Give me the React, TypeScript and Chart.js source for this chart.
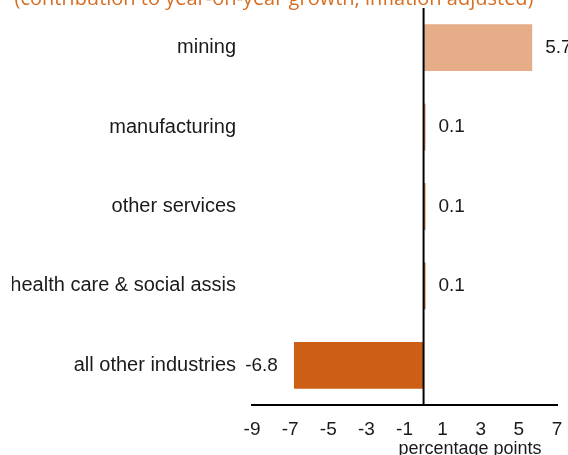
import React, { useEffect, useRef } from 'react';
import { Chart, registerables } from 'chart.js';

Chart.register(...registerables);

const categories = ['mining', 'manufacturing', 'other services', 'health care & social assis', 'all other industries'];
const values = [5.7, 0.1, 0.1, 0.1, -6.8];
const barColors = ['#E5AE88', '#D98A5C', '#CF7640', '#B9652F', '#CC5F15'];
const xTicks = [-9, -7, -5, -3, -1, 1, 3, 5, 7];
const titleText = '(contribution to year-on-year growth, inflation adjusted)';
const axisTitle = 'percentage points';

const FONT = '"Liberation Sans", Arial, sans-serif';
const TEXT = '#1a1a1a';
const TITLE_COLOR = '#D66D22';

const overlay = {
  id: 'overlay',
  afterDatasetsDraw(chart: any) {
    const { ctx, chartArea, scales } = chart;
    const x = scales.x;
    const x0 = x.getPixelForValue(0);
    ctx.save();
    ctx.strokeStyle = '#000';
    ctx.lineWidth = 2;
    ctx.beginPath();
    ctx.moveTo(x0, chartArea.top);
    ctx.lineTo(x0, chartArea.bottom);
    ctx.stroke();

    const meta = chart.getDatasetMeta(0);
    ctx.font = '19px ' + FONT;
    ctx.fillStyle = TEXT;
    ctx.textBaseline = 'middle';
    meta.data.forEach((bar: any, i: number) => {
      const v = values[i];
      const label = v.toFixed(1);
      if (v >= 0) {
        ctx.textAlign = 'left';
        ctx.fillText(label, bar.x + 13, bar.y);
      } else {
        ctx.textAlign = 'right';
        ctx.fillText(label, bar.x - 16, bar.y);
      }
    });

    ctx.font = '20px "Open Sans", sans-serif';
    ctx.fillStyle = TITLE_COLOR;
    ctx.textAlign = 'center';
    ctx.textBaseline = 'alphabetic';
    ctx.fillText(titleText, 274, 5);

    ctx.font = '18px ' + FONT;
    ctx.fillStyle = TEXT;
    ctx.fillText(axisTitle, 470, 454);
    ctx.restore();
  },
};

const zeroPad = (scale: any) => {
  scale.paddingTop = 0;
  scale.paddingBottom = 0;
  scale.paddingLeft = 0;
  scale.paddingRight = 0;
};

export default function App() {
  const ref = useRef<HTMLCanvasElement | null>(null);
  useEffect(() => {
    if (!ref.current) return;
    const chart = new Chart(ref.current, {
      type: 'bar',
      data: {
        labels: categories,
        datasets: [
          {
            data: values,
            backgroundColor: barColors,
            borderWidth: 0,
            categoryPercentage: 1,
            barPercentage: 0.59,
          },
        ],
      },
      options: {
        indexAxis: 'y',
        responsive: false,
        animation: false,
        layout: { padding: { top: 8, right: 11, left: 12, bottom: 0 } },
        plugins: {
          legend: { display: false },
          tooltip: { enabled: false },
          title: { display: false },
        },
        scales: {
          x: {
            min: -9,
            max: 7,
            afterBuildTicks: (scale: any) => {
              scale.ticks = xTicks.map((v) => ({ value: v }));
            },
            afterFit: (scale: any) => {
              scale.height = 50;
              zeroPad(scale);
            },
            grid: { display: false, drawTicks: false },
            border: { display: true, color: '#000', width: 2 },
            ticks: {
              padding: 13,
              color: TEXT,
              font: { family: FONT, size: 19 },
              maxRotation: 0,
              autoSkip: false,
            },
          },
          y: {
            afterFit: (scale: any) => {
              scale.width = 240;
              zeroPad(scale);
            },
            grid: { display: false, drawTicks: false },
            border: { display: false },
            ticks: {
              padding: 16,
              color: TEXT,
              font: { family: FONT, size: 20 },
              autoSkip: false,
            },
          },
        },
      },
      plugins: [overlay],
    });
    return () => chart.destroy();
  }, []);

  return (
    <div style={{ position: 'absolute', left: 0, top: 0, width: 568, height: 455 }}>
      <canvas ref={ref} width={568} height={455} style={{ display: 'block' }} />
    </div>
  );
}
